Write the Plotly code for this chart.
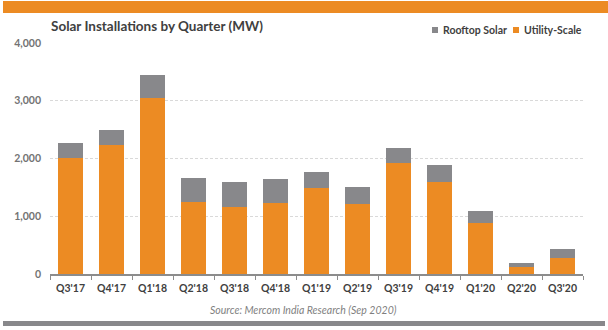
import plotly.graph_objects as go

# Quarterly solar installations in India (MW)
quarters = ["Q3'17", "Q4'17", "Q1'18", "Q2'18", "Q3'18", "Q4'18", "Q1'19",
            "Q2'19", "Q3'19", "Q4'19", "Q1'20", "Q2'20", "Q3'20"]
utility_scale = [2012, 2232, 3045, 1246, 1159, 1228, 1488, 1217, 1920, 1592, 882, 121, 283]
rooftop_solar = [254, 259, 398, 415, 433, 416, 277, 288, 260, 294, 208, 69, 150]
y_ticks = [0, 1000, 2000, 3000, 4000]

ORANGE = "#EC8B23"
GREY = "#88888B"
DARK = "#404040"
MID = "#737373"
FONT = "Lato"

W, H = 608, 330
L, R, T, B = 50, 25, 43, 56
PW, PH = W - L - R, H - T - B


def px(x):
    """Horizontal pixel -> paper coordinate."""
    return (x - L) / PW


def py(y):
    """Vertical pixel (from top) -> paper coordinate."""
    return (H - B - y) / PH


fig = go.Figure()
fig.add_trace(go.Bar(x=quarters, y=utility_scale, name="Utility-Scale",
                     marker=dict(color=ORANGE, line=dict(width=0))))
fig.add_trace(go.Bar(x=quarters, y=rooftop_solar, name="Rooftop Solar",
                     marker=dict(color=GREY, line=dict(width=0))))

fig.update_layout(
    width=W, height=H,
    barmode="stack", bargap=0.41,
    paper_bgcolor="white", plot_bgcolor="white",
    margin=dict(l=L, r=R, t=T, b=B, autoexpand=False),
    font=dict(family=FONT, color=DARK, size=11),
    showlegend=False,
)

fig.update_yaxes(range=[0, 4000], tickvals=y_ticks, tickformat=",d",
                 showgrid=True, gridcolor="#D9D9D9", gridwidth=1, griddash="3px,2px",
                 zeroline=False, showline=False, ticks="",
                 tickfont=dict(family=FONT, size=10.5, color=MID, weight="bold"),
                 ticklabelstandoff=8)
fig.update_xaxes(showline=True, linecolor="#8C8C8C", linewidth=1.5,
                 ticks="outside", tickson="boundaries", ticklen=4,
                 tickcolor="#8C8C8C", tickwidth=1, ticklabelstandoff=4,
                 tickfont=dict(family=FONT, size=10.5, color=DARK, weight="bold"))

# Title
fig.add_annotation(text="<b>Solar Installations by Quarter (MW)</b>",
                   xref="paper", yref="paper", x=px(49), y=py(25.5),
                   showarrow=False, xanchor="left", yanchor="middle",
                   font=dict(family=FONT, size=13.5, color=DARK))

# Legend: small squares with labels
legend_items = [("Rooftop Solar", GREY, 432), ("Utility-Scale", ORANGE, 513)]
for label, color, x0 in legend_items:
    fig.add_shape(type="rect", xref="paper", yref="paper",
                  x0=px(x0), x1=px(x0 + 6), y0=py(33), y1=py(27),
                  fillcolor=color, line=dict(width=0))
    fig.add_annotation(text=label, xref="paper", yref="paper",
                       x=px(x0 + 8.5), y=py(30), showarrow=False,
                       xanchor="left", yanchor="middle",
                       font=dict(family=FONT, size=10.5, color=DARK, weight="bold"))

# Top orange banner and bottom grey rule
fig.add_shape(type="rect", xref="paper", yref="paper",
              x0=px(3), x1=px(608), y0=py(13), y1=py(1),
              fillcolor=ORANGE, line=dict(width=0))
fig.add_shape(type="rect", xref="paper", yref="paper",
              x0=px(3), x1=px(605), y0=py(326), y1=py(321),
              fillcolor=GREY, line=dict(width=0))

# Source note
fig.add_annotation(text="<i>Source: Mercom India Research (Sep 2020)</i>",
                   xref="paper", yref="paper", x=px(303), y=py(310),
                   showarrow=False, xanchor="center", yanchor="middle",
                   font=dict(family=FONT, size=10.5, color="#7F7F7F"))

fig.write_html("out.html")
